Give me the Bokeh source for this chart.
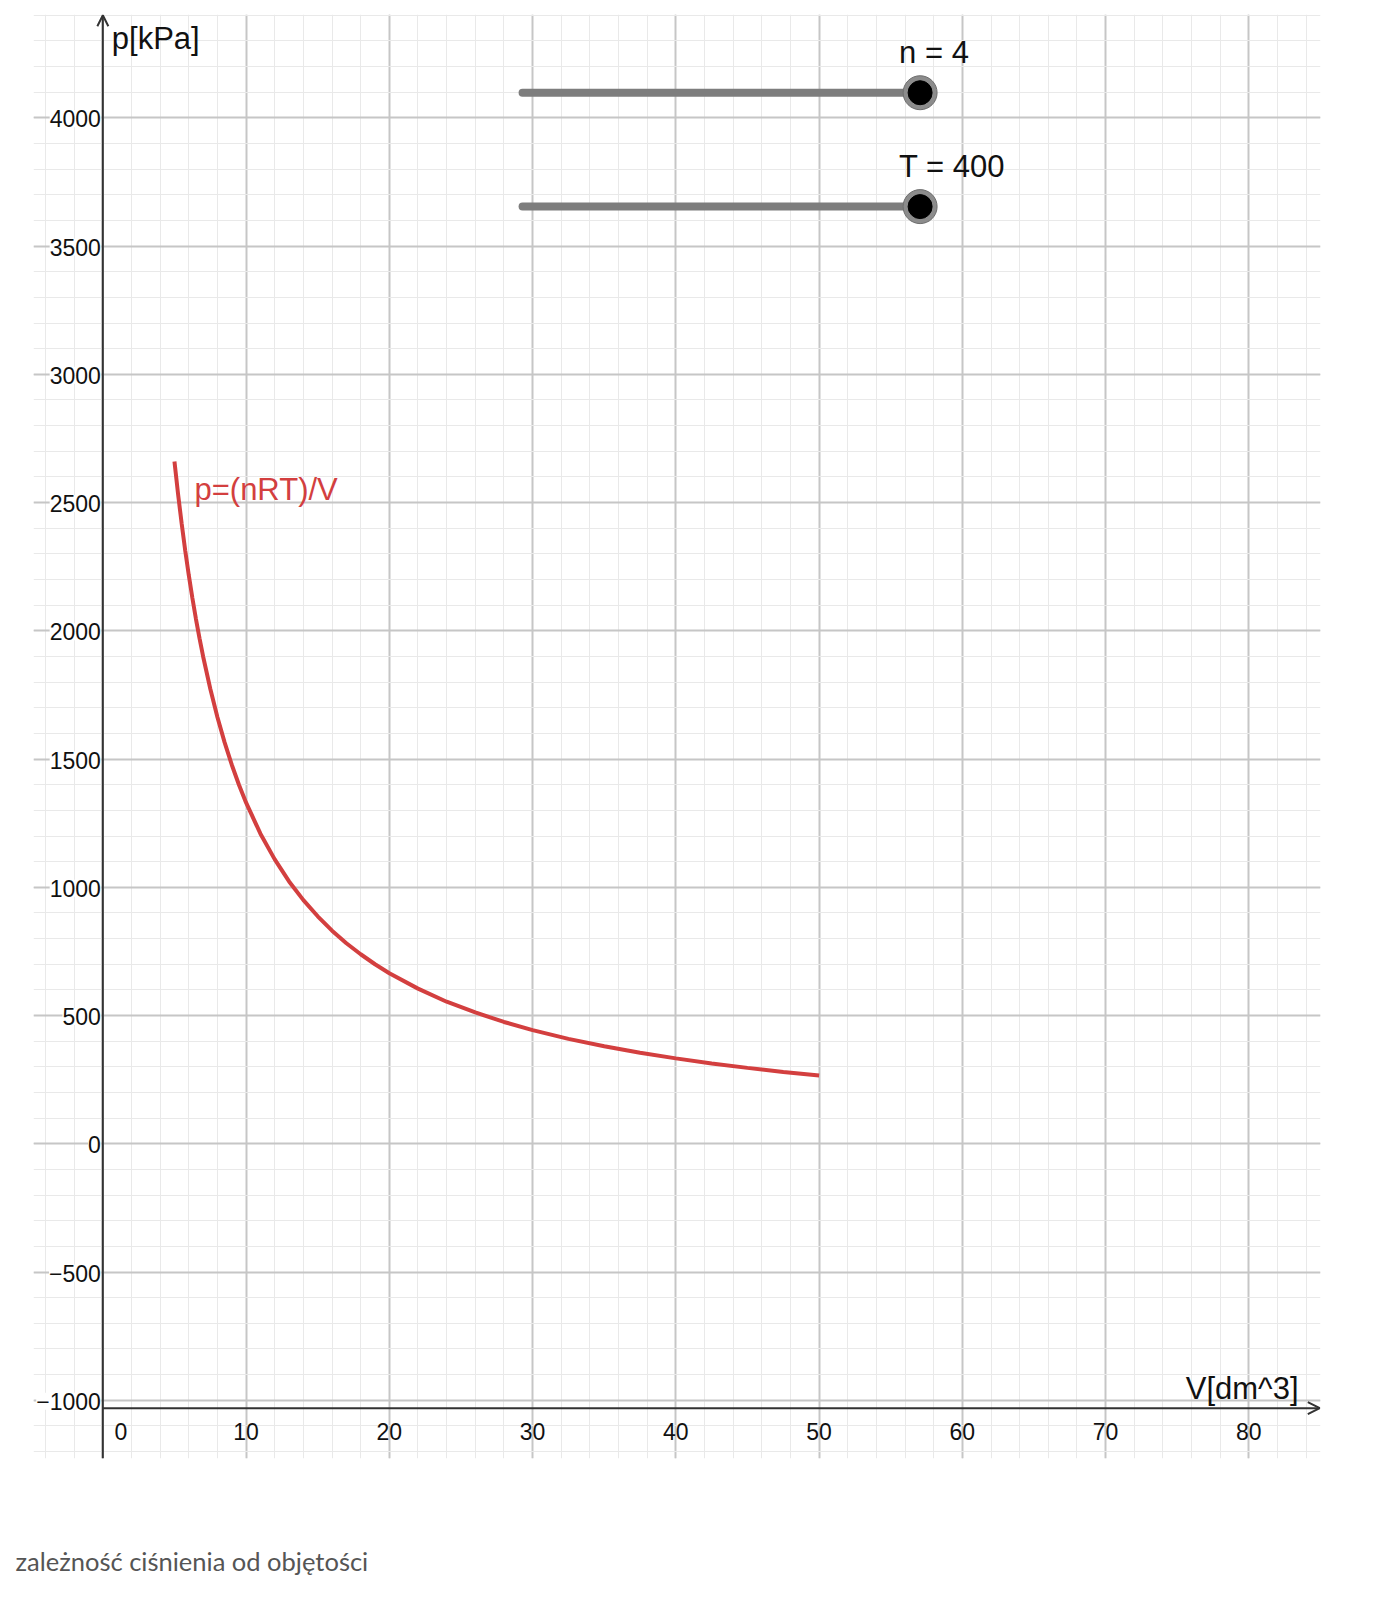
from bokeh.plotting import figure
from bokeh.models import (Range1d, Grid, SingleIntervalTicker, LabelSet, Label,
                          ColumnDataSource, Arrow, OpenHead, Title)
from bokeh.core.properties import value
from bokeh.embed import file_html
from bokeh.resources import INLINE

# ---- data ----
volume = [5, 5.25, 5.5, 5.75, 6, 6.25, 6.5, 6.75, 7, 7.5, 8, 8.5, 9, 9.5, 10,
          11, 12, 13, 14, 15, 16, 17, 18, 19, 20, 22, 24, 26, 28, 30, 32.5,
          35, 37.5, 40, 42.5, 45, 47.5, 50]
pressure = [2660, 2534, 2419, 2313, 2217, 2128, 2046, 1971, 1900, 1774, 1663,
            1565, 1478, 1400, 1330, 1209, 1109, 1023, 950, 887, 831, 782, 739,
            700, 665, 605, 554, 512, 475, 443, 409, 380, 355, 333, 313, 296,
            280, 266]
n_value = 4
T_value = 400
x_tick_values = [10, 20, 30, 40, 50, 60, 70, 80]
y_tick_values = [-1000, -500, 0, 500, 1000, 1500, 2000, 2500, 3000, 3500, 4000]
curve_label = "p=(nRT)/V"
x_axis_title = "V[dm^3]"
y_axis_title = "p[kPa]"
caption = "zależność ciśnienia od objętości"

# ---- layout constants ----
X_MIN, X_MAX = -4.84, 85.0
Y_MIN, Y_MAX = -1227, 4403
X_AXIS_Y = -1031
RED = "#d33f3f"
AXIS = "#333333"
TXT = "#111111"
FONT = "Liberation Sans"

p = figure(width=1398, height=1600, output_backend="svg", toolbar_location=None,
           x_axis_location=None, y_axis_location=None,
           x_range=Range1d(X_MIN, X_MAX), y_range=Range1d(Y_MIN, Y_MAX),
           min_border_left=33, min_border_right=78, min_border_top=14,
           min_border_bottom=142)
p.title.visible = False
p.outline_line_color = None
p.background_fill_color = "white"
p.border_fill_color = "white"

gx = Grid(dimension=0, ticker=SingleIntervalTicker(interval=10, num_minor_ticks=5),
          grid_line_color="#c6c6c6", grid_line_width=2,
          minor_grid_line_color="#e9e9e9", minor_grid_line_width=1)
gy = Grid(dimension=1, ticker=SingleIntervalTicker(interval=500, num_minor_ticks=5),
          grid_line_color="#c6c6c6", grid_line_width=2,
          minor_grid_line_color="#e9e9e9", minor_grid_line_width=1)
p.add_layout(gx)
p.add_layout(gy)

# axes
p.add_layout(Arrow(end=OpenHead(size=11, line_width=2, line_color=AXIS),
                   x_start=0, y_start=Y_MIN, x_end=0, y_end=Y_MAX - 3,
                   line_width=2, line_color=AXIS))
p.add_layout(Arrow(end=OpenHead(size=12, line_width=2, line_color=AXIS),
                   x_start=0, y_start=X_AXIS_Y, x_end=X_MAX - 0.05, y_end=X_AXIS_Y,
                   line_width=2, line_color=AXIS))

# tick labels
def fmt(v):
    return ("\u2212" + str(-v)) if v < 0 else str(v)

ysrc = ColumnDataSource(dict(x=[0] * len(y_tick_values), y=y_tick_values,
                             t=[fmt(v) for v in y_tick_values]))
p.add_layout(LabelSet(source=ysrc, x="x", y="y", text="t", x_offset=-2, y_offset=-1,
                      text_align="right", text_baseline="middle",
                      text_font=value(FONT), text_font_size="23px",
                      text_color=TXT, background_fill_color="white"))
xsrc = ColumnDataSource(dict(x=x_tick_values, y=[X_AXIS_Y] * len(x_tick_values),
                             t=[fmt(v) for v in x_tick_values]))
p.add_layout(LabelSet(source=xsrc, x="x", y="y", text="t", y_offset=-23,
                      text_align="center", text_baseline="middle",
                      text_font=value(FONT), text_font_size="23px",
                      text_color=TXT))
p.add_layout(Label(x=0, y=X_AXIS_Y, text="0", x_offset=18, y_offset=-23,
                   text_align="center", text_baseline="middle",
                   text_font=FONT, text_font_size="23px", text_color=TXT))

# axis titles (alphabetic baseline)
p.add_layout(Label(x=0, y=Y_MAX, text=y_axis_title, x_offset=9, y_offset=-24,
                   text_align="left", text_baseline="alphabetic",
                   text_font=FONT, text_font_size="31px", text_color=TXT))
p.add_layout(Label(x=X_MAX, y=X_AXIS_Y, text=x_axis_title, x_offset=-22, y_offset=20,
                   text_align="right", text_baseline="alphabetic",
                   text_font=FONT, text_font_size="31px", text_color=TXT))

# curve
p.line(volume, pressure, line_color=RED, line_width=4)
p.add_layout(Label(x=volume[0], y=pressure[0], text=curve_label, x_offset=20,
                   y_offset=-28, text_align="left", text_baseline="alphabetic",
                   text_font=FONT, text_font_size="31px", text_color=RED))

# sliders
SL_X0, SL_X1 = 29.3, 57.05
for val, name, sy in [(n_value, "n", 4098), (T_value, "T", 3654)]:
    p.line([SL_X0, SL_X1], [sy, sy], line_color="#7d7d7d", line_width=8,
           line_cap="round")
    p.scatter([SL_X1], [sy], size=34, fill_color="#8c8c8c", line_color="#6e6e6e",
              line_width=1)
    p.scatter([SL_X1], [sy], size=24, fill_color="black", line_color="black")
    p.add_layout(Label(x=SL_X1, y=sy, text=f"{name} = {val}", x_offset=-21,
                       y_offset=40, text_align="left", text_baseline="alphabetic",
                       text_font=FONT, text_font_size="31px", text_color=TXT))

# caption below the graph (a blank spacer title pushes it down)
p.add_layout(Title(text=" ", standoff=72, text_font_size="10px"), "below")
p.add_layout(Title(text=caption, align="left", offset=-18, standoff=0,
                   text_font="Lato", text_font_size="25.5px",
                   text_font_style="normal", text_color="#555555"), "below")

open("out.html", "w").write(file_html(p, INLINE))
